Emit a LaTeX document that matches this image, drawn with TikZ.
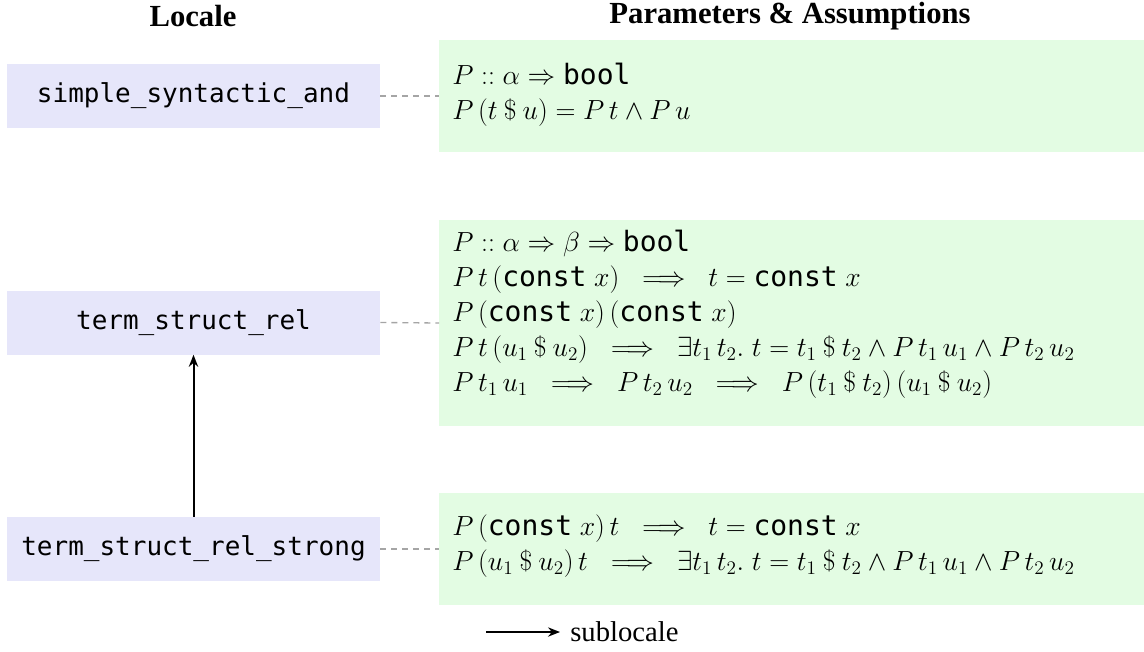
\documentclass[tikz,border=0pt]{standalone}
\usepackage{amsmath,amssymb}
\usepackage[no-math]{fontspec}
\setmainfont{Liberation Serif}
\newfontfamily\isafont{DejaVu Sans Mono}
\usetikzlibrary{arrows.meta}
\definecolor{locfill}{RGB}{230,230,250}
\definecolor{asmfill}{RGB}{227,252,227}
\definecolor{dashgray}{RGB}{165,165,165}
\newcommand\isa[1]{\mbox{\isafont #1}}
\newcommand\app{\mathbin{\$}}
\newcommand\imp{\mathrel{\mkern10mu\Longrightarrow\mkern10mu}}
\begin{document}
\begin{tikzpicture}[x=0.75pt,y=-0.75pt,
  locale/.style={fill=locfill, minimum width=279.75pt, minimum height=48pt, inner sep=0pt, font=\isafont\fontsize{19.5}{24}\selectfont},
  asm/.style={fill=asmfill, anchor=west, inner sep=0pt, minimum width=528.75pt},
  asmline/.style={anchor=base west, inner sep=0pt, font=\fontsize{21}{26}\selectfont},
  header/.style={font=\bfseries\fontsize{23}{28}\selectfont},
  link/.style={dashgray, line width=1pt, dash pattern=on 4.5pt off 3.75pt},
  sub/.style={-{Stealth[length=9pt,width=7pt]}, line width=1.5pt},
]
\useasboundingbox (0,0) rectangle (1144,651);
\node[header] (h1) at (193,16) {Locale};
\node[header] (h2) at (790,16) {Parameters \& Assumptions};

\node[locale] (l1) at (193.5,96) {simple\_syntactic\_and};
\node[locale] (l2) at (193.5,322.5) {term\_struct\_rel};
\node[locale] (l3) at (193.5,549) {term\_struct\_rel\_strong};

\node[asm, minimum height=84pt] (a1) at (439,96) {};
\node[asm, minimum height=154.5pt] (a2) at (439,323) {};
\node[asm, minimum height=84pt] (a3) at (439,549) {};

\node[asmline] (a1r1) at (452,84) {$P \mathrel{::} \alpha \Rightarrow \isa{bool}$};
\node[asmline] (a1r2) at (452,119) {$P\,(t \app u) = P\,t \wedge P\,u$};

\node[asmline] (a2r1) at (452,251) {$P \mathrel{::} \alpha \Rightarrow \beta \Rightarrow \isa{bool}$};
\node[asmline] (a2r2) at (452,286) {$P\,t\,(\isa{const}\;x) \imp t = \isa{const}\;x$};
\node[asmline] (a2r3) at (452,321) {$P\,(\isa{const}\;x)\,(\isa{const}\;x)$};
\node[asmline] (a2r4) at (452,356) {$P\,t\,(u_1 \app u_2) \imp \exists t_1\,t_2.\; t = t_1 \app t_2 \wedge P\,t_1\,u_1 \wedge P\,t_2\,u_2$};
\node[asmline] (a2r5) at (452,391) {$P\,t_1\,u_1 \imp P\,t_2\,u_2 \imp P\,(t_1 \app t_2)\,(u_1 \app u_2)$};

\node[asmline] (a3r1) at (452,535) {$P\,(\isa{const}\;x)\,t \imp t = \isa{const}\;x$};
\node[asmline] (a3r2) at (452,570) {$P\,(u_1 \app u_2)\,t \imp \exists t_1\,t_2.\; t = t_1 \app t_2 \wedge P\,t_1\,u_1 \wedge P\,t_2\,u_2$};

\draw[link] (l1.east) -- (a1.west);
\draw[link] (l2.east) -- (a2.west);
\draw[link] (l3.east) -- (a3.west);
\draw[sub] (l3.north) -- (l2.south);

\coordinate (lg) at (486,632);
\node[anchor=west, inner xsep=7.5pt, inner ysep=0pt, font=\fontsize{21.5}{24}\selectfont] (lgt) at (560,632) {sublocale};
\draw[sub, line width=1.1pt] (lg) -- (lgt.west);
\end{tikzpicture}
\end{document}
